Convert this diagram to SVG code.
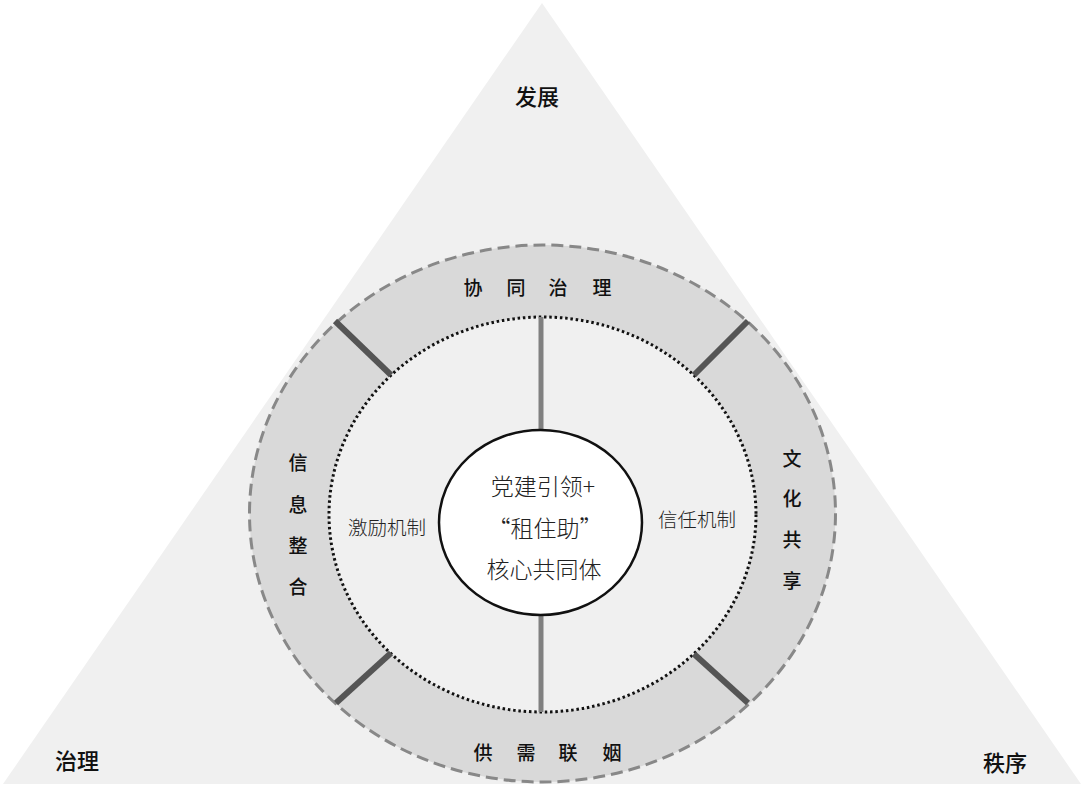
<svg xmlns="http://www.w3.org/2000/svg" width="1085" height="792" viewBox="0 0 1085 792">
<style>
text{font-family:"Noto Sans CJK SC","Noto Sans",sans-serif;fill:#111;text-anchor:middle;dominant-baseline:central}
.corner{font-size:22px;font-weight:500}
.ring{font-size:19px;font-weight:500}
.mech{font-size:19.5px;font-weight:300;fill:#222}
.core{font-size:23px;font-weight:300;fill:#222}
.sep{stroke:#555;stroke-width:6;stroke-linecap:butt}
.axis{stroke:#808080;stroke-width:5}
</style>
<rect width="1085" height="792" fill="#fff"/>
<g id="triangle">
<polygon points="542,3 3,784 1081,784" fill="#f0f0f0"/>
<text class="corner" x="537" y="95" font-weight="bold">发展</text>
<text class="corner" x="77" y="759">治理</text>
<text class="corner" x="1005" y="761">秩序</text>
</g>
<g id="outer-ring">
<ellipse cx="542.5" cy="513.5" rx="293" ry="268.5" fill="#d9d9d9" stroke="#888" stroke-width="3" stroke-dasharray="12,6"/>
</g>
<g id="inner-ring">
<ellipse cx="542.5" cy="514.5" rx="213.5" ry="197.5" fill="#f0f0f0" stroke="#111" stroke-width="3" stroke-dasharray="2.5,2.8"/>
</g>
<g id="connectors">
<line class="axis" x1="541" y1="317" x2="541" y2="430"/>
<line class="axis" x1="541" y1="615" x2="541" y2="712"/>
<line class="sep" x1="335" y1="321" x2="391" y2="375"/>
<line class="sep" x1="748" y1="321" x2="694" y2="375"/>
<line class="sep" x1="336" y1="703" x2="391" y2="653"/>
<line class="sep" x1="748" y1="703" x2="694" y2="654"/>
</g>
<g id="label-top">
<text class="ring" x="473" y="286">协</text>
<text class="ring" x="516" y="286">同</text>
<text class="ring" x="558" y="286">治</text>
<text class="ring" x="602" y="286">理</text>
</g>
<g id="label-bottom">
<text class="ring" x="483" y="751">供</text>
<text class="ring" x="526" y="751">需</text>
<text class="ring" x="568" y="751">联</text>
<text class="ring" x="612" y="751">姻</text>
</g>
<g id="label-left">
<text class="ring" x="298" y="461">信</text>
<text class="ring" x="298" y="503">息</text>
<text class="ring" x="298" y="544">整</text>
<text class="ring" x="298" y="585">合</text>
</g>
<g id="label-right">
<text class="ring" x="792" y="457">文</text>
<text class="ring" x="792" y="497">化</text>
<text class="ring" x="792" y="538">共</text>
<text class="ring" x="792" y="579">享</text>
</g>
<g id="mech-left"><text class="mech" x="387" y="526">激励机制</text></g>
<g id="mech-right"><text class="mech" x="697" y="518">信任机制</text></g>
<g id="core">
<ellipse cx="540.5" cy="522.5" rx="101.5" ry="92.5" fill="#fff" stroke="#111" stroke-width="2.5"/>
<text class="core" x="543" y="485">党建引领+</text>
<text class="core" x="545" y="527">“租住助”</text>
<text class="core" x="544" y="568">核心共同体</text>
</g>
</svg>
